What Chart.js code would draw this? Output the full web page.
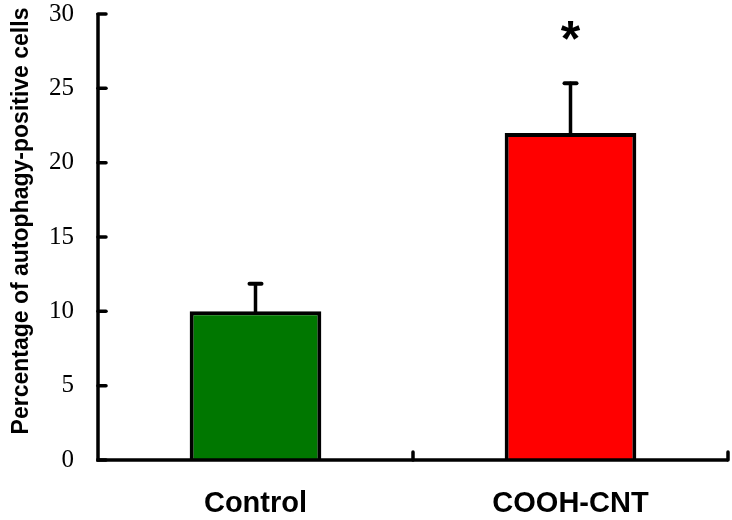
<!DOCTYPE html>
<html>
<head>
<meta charset="utf-8">
<script src="https://cdn.jsdelivr.net/npm/chart.js@4/dist/chart.umd.min.js"></script>
<style>
html,body{margin:0;padding:0;background:#fff;}
#wrap{width:732px;height:520px;position:relative;}
</style>
</head>
<body>
<div id="wrap"><canvas id="c" width="732" height="520"></canvas></div>
<script>
const categories = ["Control", "COOH-CNT"];
const values = [10, 22];
const errorUpper = [1.85, 3.35];
const significance = ["", "*"];
const yTicks = [0, 5, 10, 15, 20, 25, 30];
const barColors = ["#007700", "#FF0000"];
const yTitle = "Percentage of autophagy-positive cells";

const axesPlugin = {
  id: 'axesPlugin',
  afterDatasetsDraw(chart) {
    const ctx = chart.ctx;
    const x = chart.scales.x, y = chart.scales.y;
    const left = chart.chartArea.left, right = chart.chartArea.right;
    const bottom = y.getPixelForValue(0), top = y.getPixelForValue(30);
    ctx.save();
    ctx.strokeStyle = '#000';
    ctx.lineCap = 'round';
    // error bars
    const meta = chart.getDatasetMeta(0);
    meta.data.forEach((bar, i) => {
      const yTop = y.getPixelForValue(values[i] + errorUpper[i]);
      const yBar = y.getPixelForValue(values[i]);
      ctx.lineWidth = 3.5;
      ctx.beginPath();
      ctx.moveTo(bar.x, yBar);
      ctx.lineTo(bar.x, yTop);
      ctx.stroke();
      ctx.lineWidth = 4;
      ctx.beginPath();
      ctx.moveTo(bar.x - 6, yTop);
      ctx.lineTo(bar.x + 6, yTop);
      ctx.stroke();
      if (significance[i]) {
        ctx.fillStyle = '#000';
        ctx.font = 'bold 50px "Liberation Sans", Arial, sans-serif';
        ctx.textAlign = 'center';
        ctx.textBaseline = 'middle';
        ctx.fillText(significance[i], bar.x, y.getPixelForValue(28.8) + 10);
      }
    });
    ctx.lineCap = 'butt';
    ctx.lineWidth = 3.5;
    // y axis
    ctx.beginPath();
    ctx.moveTo(left, top - 1);
    ctx.lineTo(left, bottom + 1.5);
    ctx.stroke();
    // y ticks (inward)
    ctx.lineCap = 'round';
    yTicks.forEach(v => {
      const py = y.getPixelForValue(v);
      ctx.beginPath();
      ctx.moveTo(left, py);
      ctx.lineTo(left + 8, py);
      ctx.stroke();
    });
    // x axis
    ctx.lineCap = 'butt';
    ctx.beginPath();
    ctx.moveTo(left - 1.5, bottom);
    ctx.lineTo(right, bottom);
    ctx.stroke();
    // x ticks between categories (inward)
    ctx.lineCap = 'round';
    const step = x.getPixelForValue(1) - x.getPixelForValue(0);
    for (let i = 0; i < categories.length; i++) {
      const px = x.getPixelForValue(i) + step / 2;
      ctx.beginPath();
      ctx.moveTo(px, bottom);
      ctx.lineTo(px, bottom - 8);
      ctx.stroke();
    }
    // y title
    ctx.save();
    ctx.translate(22, (top + bottom) / 2 - 16);
    ctx.rotate(-Math.PI / 2);
    ctx.fillStyle = '#000';
    ctx.font = 'bold 23px "Liberation Sans", Arial, sans-serif';
    ctx.textAlign = 'center';
    ctx.textBaseline = 'middle';
    ctx.fillText(yTitle, 0, 0);
    ctx.restore();
    ctx.restore();
  }
};

new Chart(document.getElementById('c'), {
  type: 'bar',
  data: {
    labels: categories,
    datasets: [{
      data: values,
      backgroundColor: barColors,
      borderColor: '#000',
      borderWidth: 4,
      barPercentage: 0.418,
      categoryPercentage: 1.0
    }]
  },
  options: {
    responsive: false,
    animation: false,
    devicePixelRatio: 1,
    layout: { padding: { top: 14, right: 4, bottom: 0, left: 0 } },
    plugins: { legend: { display: false }, tooltip: { enabled: false } },
    scales: {
      x: {
        grid: { display: false, drawTicks: false },
        border: { display: false },
        ticks: {
          color: '#000',
          padding: 27,
          font: { family: '"Liberation Sans", Arial, sans-serif', size: 29, weight: 'bold' }
        },
        afterFit(s) { s.height = 60; s.paddingLeft = 0; s.paddingRight = 0; }
      },
      y: {
        min: 0, max: 30,
        grid: { display: false, drawTicks: false },
        border: { display: false },
        ticks: {
          stepSize: 5,
          color: '#000',
          padding: 24,
          font: { family: '"Liberation Serif", "Times New Roman", serif', size: 25 }
        },
        afterFit(s) { s.width = 98; s.paddingTop = 0; s.paddingBottom = 0; }
      }
    }
  },
  plugins: [axesPlugin]
});
</script>
</body>
</html>
